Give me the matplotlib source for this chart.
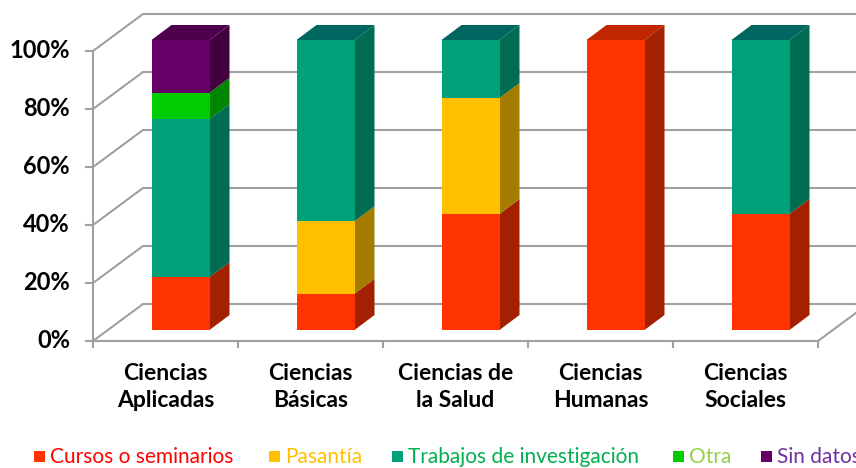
import numpy as np
import matplotlib.pyplot as plt
from matplotlib.patches import Polygon, Rectangle
from matplotlib.transforms import IdentityTransform

plt.rcParams['font.family'] = ['Lato', 'DejaVu Sans']

categories = ['Ciencias\nAplicadas', 'Ciencias\nBásicas', 'Ciencias de\nla Salud',
              'Ciencias\nHumanas', 'Ciencias\nSociales']
series = ['Cursos o seminarios', 'Pasantía', 'Trabajos de investigación', 'Otra', 'Sin datos']
cursos = [18.2, 12.5, 40, 100, 40]
pasantia = [0, 25, 40, 0, 0]
trabajos = [54.5, 62.5, 20, 0, 60]
otra = [9.1, 0, 0, 0, 0]
sin_datos = [18.2, 0, 0, 0, 0]
values = [cursos, pasantia, trabajos, otra, sin_datos]
yticks = [0, 20, 40, 60, 80, 100]

front_c = ['#FF3300', '#FFC000', '#00A07A', '#00CC00', '#660066']
side_c = ['#A32000', '#A67C00', '#006C52', '#008500', '#43003F']
top_c = ['#C02600', '#BF9000', '#006660', '#009900', '#4E004E']
leg_c = ['#FF0000', '#FFC000', '#00B050', '#92D050', '#7030A0']

W, H = 856, 468
fig = plt.figure(figsize=(W / 100, H / 100), dpi=100)
ax = fig.add_axes([108 / W, 138 / H, 725 / W, 290 / H])
ax.set_xlim(-0.5, 4.5)
ax.set_ylim(0, 100)
ax.set_autoscale_on(False)
ax.axis('off')

ident = IdentityTransform()
FRONT = (-15, -11)   # front edge of the floor
WALL = (35, 26)      # back wall
DEPTH = (20, 15)     # bar depth
grid_c = '#A0A0A0'


def px(x, y, off=(0, 0)):
    X, Y = ax.transData.transform((x, y))
    return X + off[0], Y + off[1]


# back wall gridlines + left wall diagonals
for v in yticks:
    a = px(-0.5, v, FRONT)
    b = px(-0.5, v, WALL)
    c = px(5.2, v, WALL)
    ax.plot([a[0], b[0], c[0]], [a[1], b[1], c[1]], color=grid_c, lw=1.5,
            transform=ident, clip_on=False, zorder=1)
    # tick + label on the front axis
    ax.plot([a[0] - 7, a[0]], [a[1], a[1]], color=grid_c, lw=1.5,
            transform=ident, clip_on=False, zorder=1)
    ax.text(a[0] - 23, a[1], '%d%%' % v, ha='right', va='center', fontsize=17,
            fontweight='bold', transform=ident)

# front vertical axis
a = px(-0.5, 0, FRONT)
b = px(-0.5, 100, FRONT)
ax.plot([a[0], b[0]], [a[1], b[1]], color=grid_c, lw=1.5, transform=ident,
        clip_on=False, zorder=1)

# floor front edge and right edge
a = px(-0.5, 0, FRONT)
b = px(4.5, 0, FRONT)
c = px(4.5, 0, WALL)
ax.plot([a[0], b[0], c[0]], [a[1], b[1], c[1]], color=grid_c, lw=1.5,
        transform=ident, clip_on=False, zorder=1)
for k in range(len(categories) + 1):
    p = px(k - 0.5, 0, FRONT)
    ax.plot([p[0], p[0]], [p[1], p[1] - 6], color=grid_c, lw=1.5,
            transform=ident, clip_on=False, zorder=1)

# category labels
for i, cat in enumerate(categories):
    p = px(i, 0, FRONT)
    ax.text(p[0], p[1] - 46, cat, ha='center', va='center', fontsize=16.5,
            fontweight='bold', linespacing=1.3, transform=ident)

# bars
bw = 0.4
x = np.arange(len(categories))
bottom = np.zeros(len(categories))
tops = np.array([sum(v[i] for v in values) for i in range(len(categories))])
for s, vals in enumerate(values):
    vals = np.array(vals, dtype=float)
    for i in range(len(categories)):
        if vals[i] <= 0:
            continue
        lo, hi = bottom[i], bottom[i] + vals[i]
        xr = x[i] + bw / 2
        xl = x[i] - bw / 2
        side = [px(xr, lo), px(xr, hi), px(xr, hi, DEPTH), px(xr, lo, DEPTH)]
        ax.add_patch(Polygon(side, closed=True, facecolor=side_c[s], edgecolor='none',
                             transform=ident, clip_on=False, zorder=3))
        if abs(hi - tops[i]) < 1e-6:
            top = [px(xl, hi), px(xr, hi), px(xr, hi, DEPTH), px(xl, hi, DEPTH)]
            ax.add_patch(Polygon(top, closed=True, facecolor=top_c[s], edgecolor='none',
                                 transform=ident, clip_on=False, zorder=3))
    ax.bar(x, vals, width=bw, bottom=bottom, color=front_c[s], edgecolor='none', zorder=4)
    bottom += vals

# legend (the last entry runs off the right edge, as in the original)
leg_x = [34, 269, 392, 673, 761]
for s, name in enumerate(series):
    fig.patches.append(Rectangle((leg_x[s], 6), 11, 11, facecolor=front_c[s],
                                 edgecolor='none', transform=ident))
    fig.text(leg_x[s] + 16, 11, name, color=leg_c[s], fontsize=15, ha='left',
             va='center', transform=ident)

fig.savefig('out.png', dpi=100)
